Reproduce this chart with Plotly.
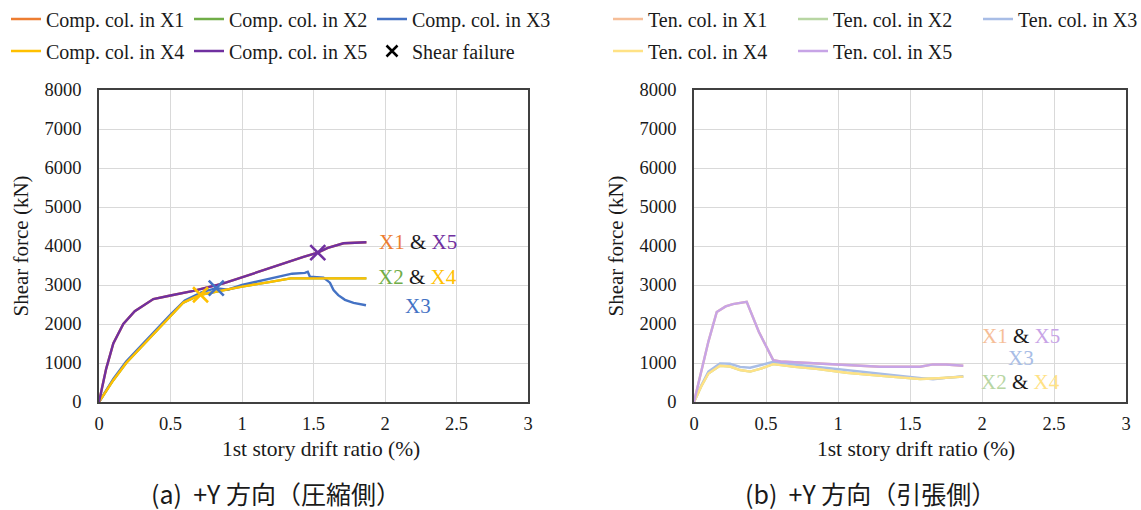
import plotly.graph_objects as go

# ---------------- data ----------------
# (a) compression side
comp_x5_x = [0, 0.05, 0.1, 0.17, 0.25, 0.38, 0.5, 0.66, 0.87, 1.0, 1.2, 1.43, 1.53, 1.6, 1.71, 1.87]
comp_x5_y = [0, 850, 1500, 2000, 2330, 2640, 2730, 2850, 3040, 3200, 3450, 3720, 3830, 3950, 4070, 4095]
comp_x1_x = comp_x5_x
comp_x1_y = comp_x5_y

comp_x4_x = [0, 0.1, 0.19, 0.3, 0.38, 0.5, 0.59, 0.71, 0.87, 1.0, 1.2, 1.34, 1.5, 1.87]
comp_x4_y = [0, 560, 1000, 1420, 1740, 2180, 2550, 2750, 2870, 2960, 3080, 3170, 3170, 3170]
comp_x2_x = comp_x4_x
comp_x2_y = comp_x4_y

comp_x3_x = [0, 0.1, 0.19, 0.3, 0.38, 0.5, 0.6, 0.72, 0.82, 0.9, 1.0, 1.2, 1.35, 1.44, 1.46,
             1.475, 1.57, 1.615, 1.64, 1.673, 1.72, 1.78, 1.867]
comp_x3_y = [0, 590, 1040, 1470, 1780, 2240, 2600, 2820, 2920, 2880, 3000, 3170, 3290, 3310, 3340,
             3210, 3190, 3060, 2870, 2740, 2620, 2540, 2480]

# shear failure points (x, y, series)
shear_x = [0.71, 0.82, 1.53]
shear_y = [2750, 2920, 3830]
shear_series = ["X4", "X3", "X5"]

# (b) tension side
ten_x5_x = [0, 0.05, 0.1, 0.158, 0.22, 0.27, 0.366, 0.45, 0.55, 0.6, 0.83, 1.0, 1.29, 1.57, 1.66, 1.75, 1.87]
ten_x5_y = [0, 800, 1550, 2310, 2450, 2510, 2570, 1800, 1075, 1040, 990, 960, 905, 905, 965, 960, 930]
ten_x1_x = ten_x5_x
ten_x1_y = ten_x5_y

ten_x4_x = [0, 0.05, 0.1, 0.18, 0.25, 0.32, 0.39, 0.47, 0.55, 0.7, 0.85, 1.06, 1.3, 1.57, 1.7, 1.87]
ten_x4_y = [0, 400, 730, 930, 910, 820, 780, 860, 970, 900, 850, 750, 670, 590, 610, 650]
ten_x2_x = ten_x4_x
ten_x2_y = ten_x4_y

ten_x3_x = [0, 0.05, 0.1, 0.18, 0.25, 0.32, 0.39, 0.47, 0.55, 0.7, 0.85, 1.06, 1.3, 1.57, 1.66, 1.75, 1.87]
ten_x3_y = [0, 420, 780, 990, 980, 900, 880, 960, 1030, 960, 900, 810, 720, 620, 580, 620, 660]

x_ticks = [0, 0.5, 1, 1.5, 2, 2.5, 3]
x_tick_labels = ["0", "0.5", "1", "1.5", "2", "2.5", "3"]
y_ticks = [0, 1000, 2000, 3000, 4000, 5000, 6000, 7000, 8000]
y_tick_labels = [str(v) for v in y_ticks]

# ---------------- styling ----------------
COL = {"X1": "#ED7D31", "X2": "#70AD47", "X3": "#4472C4", "X4": "#FFC000", "X5": "#7030A0"}
LIGHT = {"X1": "#F6BE98", "X2": "#B8D6A3", "X3": "#A8BDE6", "X4": "#FFE285", "X5": "#C7A4E6"}
SERIF = "Liberation Serif"
CJK = "Noto Sans CJK JP"
TXT = "#1a1a1a"
W, H = 1141, 510
LW = 2.4

fig = go.Figure()

comp = [("X1", comp_x1_x, comp_x1_y, "legend"), ("X2", comp_x2_x, comp_x2_y, "legend"),
        ("X3", comp_x3_x, comp_x3_y, "legend"), ("X4", comp_x4_x, comp_x4_y, "legend2"),
        ("X5", comp_x5_x, comp_x5_y, "legend2")]
for name, xs, ys, lg in comp:
    fig.add_trace(go.Scatter(x=xs, y=ys, mode="lines", name=f"Comp. col. in {name}",
                             line=dict(color=COL[name], width=LW), legend=lg,
                             xaxis="x", yaxis="y"))

fig.add_trace(go.Scatter(x=shear_x, y=shear_y, mode="markers", showlegend=False,
                         marker=dict(symbol="x-thin", size=15,
                                     line=dict(width=2.6, color=[COL[s] for s in shear_series])),
                         xaxis="x", yaxis="y"))
fig.add_trace(go.Scatter(x=[None], y=[None], mode="markers", name="Shear failure", legend="legend2",
                         marker=dict(symbol="x-thin", size=11, line=dict(width=2.5, color="black")),
                         xaxis="x", yaxis="y"))

ten = [("X1", ten_x1_x, ten_x1_y, "legend3"), ("X2", ten_x2_x, ten_x2_y, "legend3"),
       ("X3", ten_x3_x, ten_x3_y, "legend3"), ("X4", ten_x4_x, ten_x4_y, "legend4"),
       ("X5", ten_x5_x, ten_x5_y, "legend4")]
for name, xs, ys, lg in ten:
    fig.add_trace(go.Scatter(x=xs, y=ys, mode="lines", name=f"Ten. col. in {name}",
                             line=dict(color=LIGHT[name], width=LW), legend=lg,
                             xaxis="x2", yaxis="y2"))

def xaxis(domain, anchor):
    return dict(domain=domain, anchor=anchor, range=[0, 3], tickvals=x_ticks, ticktext=x_tick_labels,
                showgrid=True, gridcolor="#D9D9D9", gridwidth=1.3, zeroline=False,
                showline=True, linecolor="#404040", linewidth=1.8, mirror=True,
                ticks="", ticklabelstandoff=4, automargin=False,
                tickfont=dict(family=SERIF, size=18.5, color=TXT))

def yaxis(anchor):
    return dict(domain=[1 - 402 / H, 1 - 90 / H], anchor=anchor, range=[0, 8000],
                tickvals=y_ticks, ticktext=y_tick_labels,
                showgrid=True, gridcolor="#D9D9D9", gridwidth=1.3, zeroline=False,
                showline=True, linecolor="#404040", linewidth=1.8, mirror=True,
                ticks="", ticklabelstandoff=12, automargin=False,
                tickfont=dict(family=SERIF, size=18.5, color=TXT),
                title=dict(text="Shear force (kN)", standoff=10,
                           font=dict(family=SERIF, size=21, color=TXT)))

def legend(x, y, ew):
    return dict(x=x, y=y, xref="paper", yref="paper", xanchor="left", yanchor="middle",
                orientation="h", entrywidth=ew, entrywidthmode="pixels",
                font=dict(family=SERIF, size=20, color=TXT),
                bgcolor="rgba(0,0,0,0)", itemwidth=30, tracegroupgap=0)

fig.update_layout(
    width=W, height=H, paper_bgcolor="white", plot_bgcolor="white",
    margin=dict(l=0, r=0, t=0, b=0, autoexpand=False),
    xaxis=xaxis([99 / W, 528 / W], "y"),
    yaxis=yaxis("x"),
    xaxis2=xaxis([694 / W, 1126 / W], "y2"),
    yaxis2=yaxis("x2"),
    legend=legend(6 / W, 1 - 19 / H, 138),
    legend2=legend(6 / W, 1 - 51 / H, 138),
    legend3=legend(608 / W, 1 - 19 / H, 140),
    legend4=legend(608 / W, 1 - 51 / H, 140),
)

def label(a, b, ca, cb):
    return (f'<span style="color:{ca}">{a}</span> <span style="color:{TXT}">&amp;</span> '
            f'<span style="color:{cb}">{b}</span>')

annots = [
    ("x", "y", 2.23, 4110, label("X1", "X5", COL["X1"], COL["X5"])),
    ("x", "y", 2.23, 3205, label("X2", "X4", COL["X2"], COL["X4"])),
    ("x", "y", 2.23, 2460, f'<span style="color:{COL["X3"]}">X3</span>'),
    ("x2", "y2", 2.27, 1690, label("X1", "X5", LIGHT["X1"], LIGHT["X5"])),
    ("x2", "y2", 2.27, 1136, f'<span style="color:{LIGHT["X3"]}">X3</span>'),
    ("x2", "y2", 2.27, 520, label("X2", "X4", LIGHT["X2"], LIGHT["X4"])),
]
for xr, yr, ax, ay, txt in annots:
    fig.add_annotation(x=ax, y=ay, xref=xr, yref=yr, text=txt, showarrow=False,
                       font=dict(family=SERIF, size=21), xanchor="center", yanchor="middle")

# x-axis titles (placed as text so they can sit slightly right of centre, as in the source)
for cx in (321, 916):
    fig.add_annotation(x=cx / W, y=1 - 449 / H, xref="paper", yref="paper", showarrow=False,
                       text="1st story drift ratio (%)", font=dict(family=SERIF, size=21.5, color=TXT),
                       xanchor="center", yanchor="middle")

fig.add_annotation(x=276 / W, y=1 - 493 / H, xref="paper", yref="paper", showarrow=False,
                   text="(a)  +Y 方向（圧縮側）", font=dict(family=CJK, size=25, color=TXT),
                   xanchor="center", yanchor="middle")
fig.add_annotation(x=870 / W, y=1 - 493 / H, xref="paper", yref="paper", showarrow=False,
                   text="(b)  +Y 方向（引張側）", font=dict(family=CJK, size=25, color=TXT),
                   xanchor="center", yanchor="middle")

fig.write_html("out.html")
